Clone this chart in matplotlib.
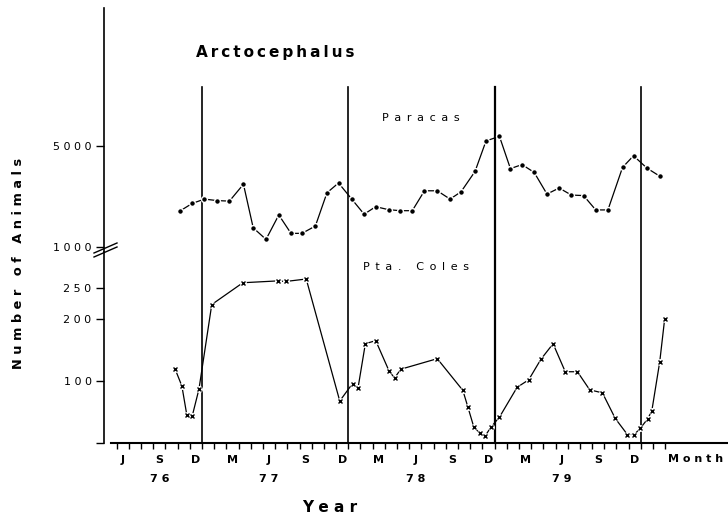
import matplotlib
matplotlib.use('Agg')
import matplotlib.pyplot as plt
from matplotlib.lines import Line2D

# ---------------- data (x = months since 1 Jan 1976) ----------------
paracas_month = [10.2, 11.2, 12.2, 13.25, 14.25, 15.4, 16.2, 17.25, 18.3, 19.3,
                 20.2, 21.3, 22.25, 23.2, 24.3, 25.3, 26.25, 27.3, 28.25, 29.25,
                 30.25, 31.3, 32.35, 33.25, 34.4, 35.3, 36.4, 37.3, 38.25, 39.25,
                 40.3, 41.3, 42.3, 43.3, 44.3, 45.3, 46.5, 47.4, 48.5, 49.55]
paracas_count = [2420, 2720, 2890, 2830, 2810, 3480, 1750, 1290, 2260, 1530,
                 1530, 1820, 3140, 3530, 2880, 2290, 2590, 2470, 2430, 2430,
                 3220, 3220, 2890, 3180, 3990, 5200, 5380, 4100, 4260, 3950,
                 3090, 3330, 3050, 3030, 2460, 2460, 4150, 4610, 4120, 3800]

coles_month = [9.8, 10.35, 10.75, 11.2, 11.75, 12.8, 15.35, 18.25, 18.85, 20.55,
               23.3, 24.35, 24.8, 25.4, 26.25, 27.35, 27.8, 28.3, 31.3, 33.4,
               33.8, 34.3, 34.8, 35.2, 35.7, 36.4, 37.85, 38.8, 39.8, 40.8,
               41.8, 42.8, 43.8, 44.85, 45.9, 46.9, 47.45, 47.95, 48.55, 48.9,
               49.55, 49.95]
coles_count = [119, 92, 46, 44, 87, 223, 258, 261, 260, 264,
               68, 96, 89, 160, 165, 116, 105, 119, 136, 85,
               59, 26, 16, 11, 26, 42, 90, 102, 135, 160,
               115, 115, 86, 81, 40, 14, 14, 24, 39, 52,
               131, 199]

upper_ticks = [1000, 5000]
lower_ticks = [0, 100, 200, 250]
month_letters = ['J', 'S', 'D', 'M', 'J', 'S', 'D', 'M', 'J', 'S', 'D', 'M', 'J', 'S', 'D']
first_month = 5           # June 1976
last_month = 50
year_labels = ['76', '77', '78', '79']
year_label_month = [8.5, 17.5, 29.5, 41.5]
year_breaks = [12, 24, 36, 48]

def spaced(s, sep=' '):
    return sep.join(s)

# ---------------- layout ----------------
W, H = 728, 519
fig = plt.figure(figsize=(W / 100, H / 100), dpi=100)
plt.rcParams['font.family'] = ['DejaVu Sans']

def fx(px):
    return px / W

def fy(py):
    return 1 - py / H

XMIN, XMAX = 3.96, 55.15
Y_TOP, Y_MID, Y_BOT = 8, 252, 443.3
ax_top = fig.add_axes([fx(104), fy(Y_MID), fx(728) - fx(104), fy(Y_TOP) - fy(Y_MID)])
ax_bot = fig.add_axes([fx(104), fy(Y_BOT), fx(728) - fx(104), fy(Y_MID) - fy(Y_BOT)])
for ax in (ax_top, ax_bot):
    ax.set_facecolor('none')
    ax.set_xlim(XMIN, XMAX)
    ax.spines['top'].set_visible(False)
    ax.spines['right'].set_visible(False)
    ax.spines['left'].set_linewidth(1.2)
    ax.tick_params(axis='y', direction='out', length=6, width=1.0,
                   labelsize=8, pad=3)

ax_top.set_ylim(790, 10476)
ax_bot.set_ylim(0, 307.4)

ax_top.spines['bottom'].set_visible(False)
ax_top.set_xticks([])
ax_top.set_yticks(upper_ticks)
ax_top.set_yticklabels([spaced(str(v)) for v in upper_ticks])

ax_bot.set_yticks(lower_ticks)
ax_bot.set_yticklabels(['' if v == 0 else spaced(str(v)) for v in lower_ticks])
ax_bot.spines['bottom'].set_linewidth(1.5)
ax_bot.spines['bottom'].set_bounds(4.55, XMAX)
ax_bot.set_xticks(list(range(first_month, last_month + 1)))
ax_bot.set_xticklabels([])
ax_bot.tick_params(axis='x', direction='out', length=4, width=1.0)

# year boundaries (vertical lines)
for yb in year_breaks:
    lw = 1.6 if yb == 36 else 1.2
    ax_bot.axvline(yb, 0, 1, color='black', lw=lw)
    ax_top.axvline(yb, 0, (Y_MID - 87) / (Y_MID - Y_TOP), color='black', lw=lw)

# series
ax_top.plot(paracas_month, paracas_count, color='black', lw=0.9, zorder=3)
ax_top.plot(paracas_month, paracas_count, ls='none', marker='o', ms=4.2,
            mfc='black', mec='white', mew=1.0, zorder=4)
ax_bot.plot(coles_month, coles_count, color='black', lw=0.9, zorder=3)
ax_bot.plot(coles_month, coles_count, ls='none', marker='o', ms=5,
            mfc='white', mec='none', zorder=4)
ax_bot.plot(coles_month, coles_count, ls='none', marker='x', ms=3.2,
            mec='black', mew=1.0, zorder=5)

# month and year labels
def ybot(py):
    return (Y_BOT - py) / (Y_BOT - Y_MID)

xt = ax_bot.get_xaxis_transform()
for i, lab in enumerate(month_letters):
    ax_bot.text(first_month + 0.5 + 3 * i, ybot(460), lab, transform=xt,
                ha='center', va='center', fontsize=8, fontweight='bold')
for lab, m in zip(year_labels, year_label_month):
    ax_bot.text(m, ybot(479), spaced(lab), transform=xt,
                ha='center', va='center', fontsize=8, fontweight='bold')

fig.text(fx(668), fy(459), spaced('Month'), ha='left', va='center',
         fontsize=8, fontweight='bold')
fig.text(fx(330), fy(507), spaced('Year'), ha='center', va='center',
         fontsize=11, fontweight='bold')
fig.text(fx(19), fy(263), 'N u m b e r   o f   A n i m a l s', rotation=90,
         ha='center', va='center', fontsize=9.3, fontweight='bold')
fig.text(fx(196), fy(53), spaced('Arctocephalus', '\u2009'), ha='left',
         va='center', fontsize=11, fontweight='bold')
fig.text(fx(382), fy(118), spaced('Paracas', '\u2002'), ha='left', va='center',
         fontsize=8)
fig.text(fx(363), fy(267), spaced('Pta. Coles', '\u2002'), ha='left',
         va='center', fontsize=8)

# axis break marks
for dy in (0, 4):
    fig.add_artist(Line2D([fx(94), fx(117)], [fy(253 + dy), fy(243 + dy)],
                          color='black', lw=1.0))

fig.savefig('out.png', dpi=100)
